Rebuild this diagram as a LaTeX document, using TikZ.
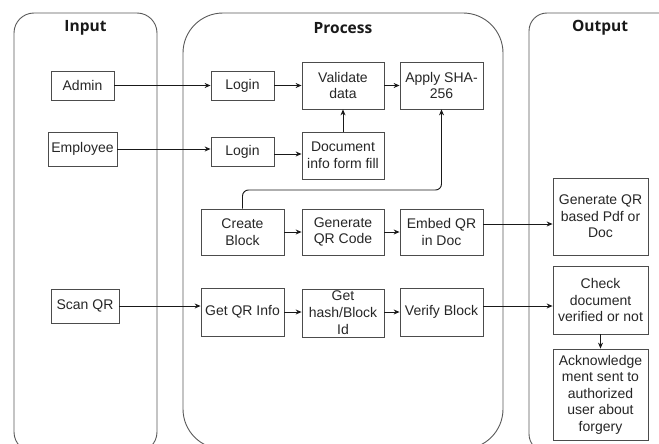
\documentclass[tikz,border=0pt]{standalone}
\usepackage{fontspec}
\setmainfont{Liberation Sans}
\newfontfamily\titlefont{Open Sans}
\usetikzlibrary{arrows.meta}
\begin{document}
\begin{tikzpicture}[x=1pt,y=-1pt,
  lane/.style={draw=black!65, line width=0.9pt},
  box/.style={draw=black!70, line width=0.8pt, inner sep=0pt, align=center,
    font=\fontsize{14}{16.5}\selectfont, text=black!85},
  ttl/.style={font=\titlefont\bfseries\fontsize{15.5}{18}\selectfont, text=black!90},
  arr/.style={draw=black!90, line width=0.95pt, -{Stealth[length=6pt,width=5pt]}}]
\useasboundingbox (0,0) rectangle (659,444);
% containers
\draw[lane, rounded corners=20pt] (14,13) rectangle (157,452);
\draw[lane, rounded corners=40pt] (183,13) rectangle (503,449);
\draw[lane, rounded corners=18pt] (529,13) rectangle (685,452);
\node[ttl] (tin) at (85.5,28) {Input};
\node[ttl] (tpr) at (343,28) {Process};
\node[ttl] (tout) at (600,28) {Output};
% input
\node[box, minimum width=63pt, minimum height=29pt] (admin) at (82.5,85.5) {Admin};
\node[box, minimum width=69pt, minimum height=34pt] (emp) at (82.5,149) {Employee};
\node[box, minimum width=68pt, minimum height=34pt] (scan) at (85,306) {Scan QR};
% process
\node[box, minimum width=63pt, minimum height=29pt] (login1) at (242.5,85.5) {Login};
\node[box, minimum width=82pt, minimum height=47pt] (valid) at (343,85.5) {Validate\\data};
\node[box, minimum width=83pt, minimum height=47pt] (sha) at (441.5,85.5) {Apply SHA-\\256};
\node[box, minimum width=63pt, minimum height=29pt] (login2) at (242.5,151.5) {Login};
\node[box, minimum width=82pt, minimum height=47pt] (doc) at (343,155.5) {Document\\info form fill};
\node[box, minimum width=83pt, minimum height=46pt] (create) at (242.5,232) {Create\\Block};
\node[box, minimum width=82pt, minimum height=46pt] (genqr) at (343,232) {Generate\\QR Code};
\node[box, minimum width=83pt, minimum height=46pt] (embed) at (441.5,232) {Embed QR\\in Doc};
\node[box, minimum width=83pt, minimum height=48pt] (getqr) at (242.5,312) {Get QR Info};
\node[box, minimum width=82pt, minimum height=48pt, font=\fontsize{14}{17}\selectfont] (hash) at (343,313) {Get\\hash/Block\\Id};
\node[box, minimum width=83pt, minimum height=48pt] (verify) at (441.5,312) {Verify Block};
% output
\node[box, minimum width=95pt, minimum height=77pt] (genpdf) at (600.5,216.5) {Generate QR\\based Pdf or\\Doc};
\node[box, minimum width=95pt, minimum height=68pt] (check) at (600.5,300) {Check\\document\\verified or not};
\node[box, minimum width=95pt, minimum height=91pt] (ack) at (600.5,394.5) {Acknowledge\\ment sent to\\authorized\\user about\\forgery};
% connectors
\draw[arr] (admin.east) -- (login1.west);
\draw[arr] (emp.east) -- (emp.east -| login2.west);
\draw[arr] (scan.east) -- (scan.east -| getqr.west);
\draw[arr] (login1.east) -- (valid.west);
\draw[arr] (valid.east) -- (sha.west);
\draw[arr] ([yshift=-2.5pt]login2.east) -- ([yshift=-2.5pt]login2.east -| doc.west);
\draw[arr] (doc.north) -- (valid.south);
\draw[arr, rounded corners=6pt] (create.north) |- (sha.south |- 0,190) -- (sha.south);
\draw[arr] (create.east) -- (genqr.west);
\draw[arr] (genqr.east) -- (embed.west);
\draw[arr] ([yshift=8pt]embed.east) -- ([yshift=8pt]embed.east -| genpdf.west);
\draw[arr] (getqr.east) -- (getqr.east -| hash.west);
\draw[arr] ([yshift=1pt]hash.east) -- (verify.west);
\draw[arr] ([yshift=6pt]verify.east) -- ([yshift=6pt]verify.east -| check.west);
\draw[arr] (check.south) -- (ack.north);
\end{tikzpicture}
\end{document}
